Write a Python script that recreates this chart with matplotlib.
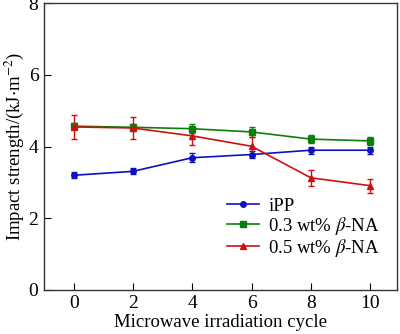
import matplotlib
matplotlib.use("Agg")
import matplotlib.pyplot as plt

plt.rcParams["font.family"] = ["Liberation Serif", "DejaVu Serif"]
plt.rcParams["mathtext.fontset"] = "stix"

cycles = [0, 2, 4, 6, 8, 10]
ipp = [3.20, 3.31, 3.69, 3.78, 3.90, 3.90]
ipp_err = [0.08, 0.08, 0.12, 0.10, 0.10, 0.10]
na03 = [4.57, 4.54, 4.50, 4.41, 4.21, 4.16]
na03_err = [0.09, 0.10, 0.13, 0.13, 0.12, 0.12]
na05 = [4.55, 4.52, 4.30, 4.01, 3.13, 2.91]
na05_err = [0.33, 0.31, 0.25, 0.25, 0.22, 0.20]

fig = plt.figure(figsize=(4.0, 3.34), dpi=100)
ax = fig.add_axes([0.11, 0.132, 0.882, 0.858])

kw = dict(lw=1.2, capsize=2.5, elinewidth=1.0, capthick=1.0)
h1 = ax.errorbar(cycles, ipp, yerr=ipp_err, color="#1010c0", marker="o", ms=4,
                 label="iPP", **kw)
h2 = ax.errorbar(cycles, na03, yerr=na03_err, color="#0a800a", marker="s", ms=4.5,
                 label=r"0.3 wt% $\beta$-NA", **kw)
h3 = ax.errorbar(cycles, na05, yerr=na05_err, color="#d01010", marker="^", ms=5,
                 label=r"0.5 wt% $\beta$-NA", **kw)

ax.set_xlim(-1.0, 10.9)
ax.set_ylim(0, 8)
ax.set_xticks(cycles)
ax.set_yticks([0, 2, 4, 6, 8])
ax.tick_params(direction="in", length=5, labelsize=14, top=False, right=False,
               pad=4)
ax.set_xlabel("Microwave irradiation cycle", fontsize=13.5, labelpad=1)
ax.set_ylabel(r"Impact strength/(kJ$\cdot$m$^{-2}$)", fontsize=13.5, labelpad=2)
for s in ax.spines.values():
    s.set_linewidth(1.0)
    s.set_color("#333333")

ax.legend([h1[0], h2[0], h3[0]], [h1.get_label(), h2.get_label(), h3.get_label()],
          loc="lower right", bbox_to_anchor=(0.99, 0.062), frameon=False,
          fontsize=13.5, handlelength=1.7, handletextpad=0.5, labelspacing=0.0,
          borderaxespad=0.3)

fig.savefig("out.png", dpi=100)
